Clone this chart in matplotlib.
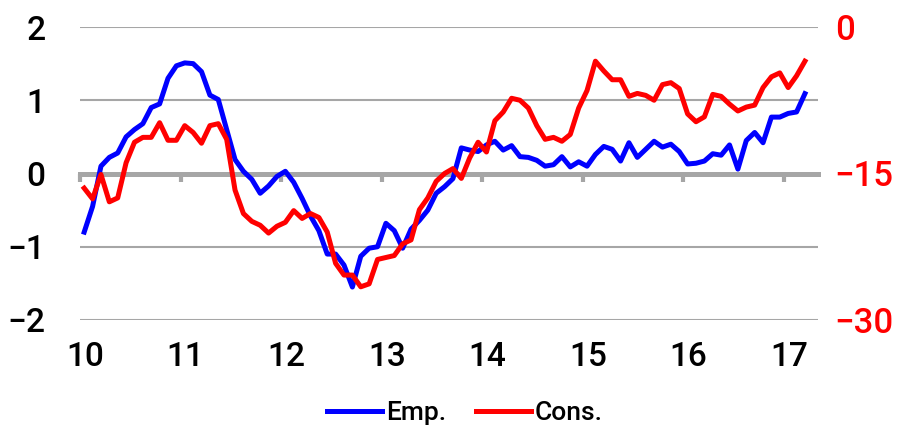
import numpy as np
import matplotlib
matplotlib.use("Agg")
import matplotlib.pyplot as plt

plt.rcParams['font.family'] = ['Roboto', 'DejaVu Sans']
plt.rcParams['font.weight'] = 'medium'

# monthly, Jan 2010 - Mar 2017
emp = [-0.8, -0.45, 0.1, 0.22, 0.28, 0.5, 0.6, 0.68, 0.9, 0.95, 1.3, 1.47,
       1.51, 1.5, 1.39, 1.07, 1.01, 0.6, 0.19, 0.03, -0.08, -0.27, -0.17, -0.04,
       0.03, -0.12, -0.34, -0.58, -0.78, -1.1, -1.1, -1.25, -1.55, -1.13, -1.02, -1.0,
       -0.68, -0.78, -1.02, -0.76, -0.64, -0.5, -0.27, -0.18, -0.07, 0.35, 0.32, 0.3,
       0.39, 0.44, 0.32, 0.38, 0.23, 0.22, 0.18, 0.1, 0.12, 0.23, 0.09, 0.16,
       0.1, 0.26, 0.37, 0.33, 0.17, 0.42, 0.22, 0.33, 0.44, 0.36, 0.4, 0.3,
       0.13, 0.14, 0.17, 0.27, 0.25, 0.39, 0.06, 0.45, 0.56, 0.42, 0.77, 0.77,
       0.82, 0.84, 1.09]
cons = [-16.5, -17.6, -15.1, -17.9, -17.5, -13.9, -11.8, -11.3, -11.3, -9.8, -11.6, -11.6,
        -10.1, -10.8, -11.9, -10.1, -9.9, -11.5, -16.7, -19.1, -19.9, -20.3, -21.1, -20.4,
        -20.0, -18.8, -19.6, -19.1, -19.5, -21.0, -24.2, -25.4, -25.4, -26.6, -26.3, -23.8,
        -23.6, -23.4, -22.2, -21.8, -18.7, -17.5, -15.8, -15.0, -14.5, -15.5, -13.4, -11.8,
        -12.8, -9.6, -8.7, -7.3, -7.5, -8.3, -10.1, -11.5, -11.3, -11.7, -11.0, -8.3,
        -6.5, -3.5, -4.5, -5.4, -5.4, -7.1, -6.8, -7.0, -7.5, -5.9, -5.7, -6.3,
        -8.9, -9.7, -9.2, -6.9, -7.1, -7.9, -8.6, -8.2, -8.0, -6.2, -5.1, -4.7,
        -6.2, -5.0, -3.5]
years = [2010, 2011, 2012, 2013, 2014, 2015, 2016, 2017]
year_labels = ['10', '11', '12', '13', '14', '15', '16', '17']
left_ticks = [-2, -1, 0, 1, 2]
right_ticks = [-30, -15, 0]

x = 2010 + (np.arange(len(emp)) + 0.5) / 12
grey = '#a6a6a6'

fig = plt.figure(figsize=(9.14, 4.29), dpi=100)
ax = fig.add_axes([80 / 914, 1 - 320 / 429, 738 / 914, 293 / 429])
ax2 = ax.twinx()

ax.plot(x, emp, color='#0000ff', lw=3.6, zorder=3, label='Emp.',
        solid_joinstyle='round')
ax2.plot(x, cons, color='#ff0000', lw=3.6, zorder=3, label='Cons.',
         solid_joinstyle='round')

ax.set_xlim(2010, 2010 + 738 / 100.57)
ax.set_ylim(-2, 2)
ax2.set_ylim(-30, 0)

ax.set_yticks(left_ticks)
ax.grid(axis='y', color=grey, lw=1.5)
ax.set_axisbelow(True)
ax.tick_params(axis='y', length=0, labelsize=24, pad=25)
ax2.set_yticks(right_ticks)
ax2.tick_params(axis='y', length=0, labelsize=25, pad=12, labelcolor='#ff0000')

for a in (ax, ax2):
    for s in ('top', 'left', 'right'):
        a.spines[s].set_visible(False)
ax2.spines['bottom'].set_visible(False)

# zero line carries the year ticks
ax.spines['bottom'].set_position(('data', 0))
ax.spines['bottom'].set_color(grey)
ax.spines['bottom'].set_linewidth(3.6)
ax.set_xticks(years)
ax.tick_params(axis='x', direction='out', length=6, width=3, color=grey,
               labelbottom=False)

sec = ax.secondary_xaxis('bottom')
sec.set_xticks([y + 0.05 for y in years], year_labels)
sec.tick_params(length=0, labelsize=24, pad=15)
sec.spines['bottom'].set_visible(False)

h1, l1 = ax.get_legend_handles_labels()
h2, l2 = ax2.get_legend_handles_labels()
fig.legend(h1 + h2, l1 + l2, loc='center', bbox_to_anchor=(465 / 914, 1 - 413 / 429),
           ncol=2, frameon=False, fontsize=19, handlelength=2.1, handletextpad=0.15,
           columnspacing=1.1, borderpad=0)

fig.savefig('out.png', dpi=100)
